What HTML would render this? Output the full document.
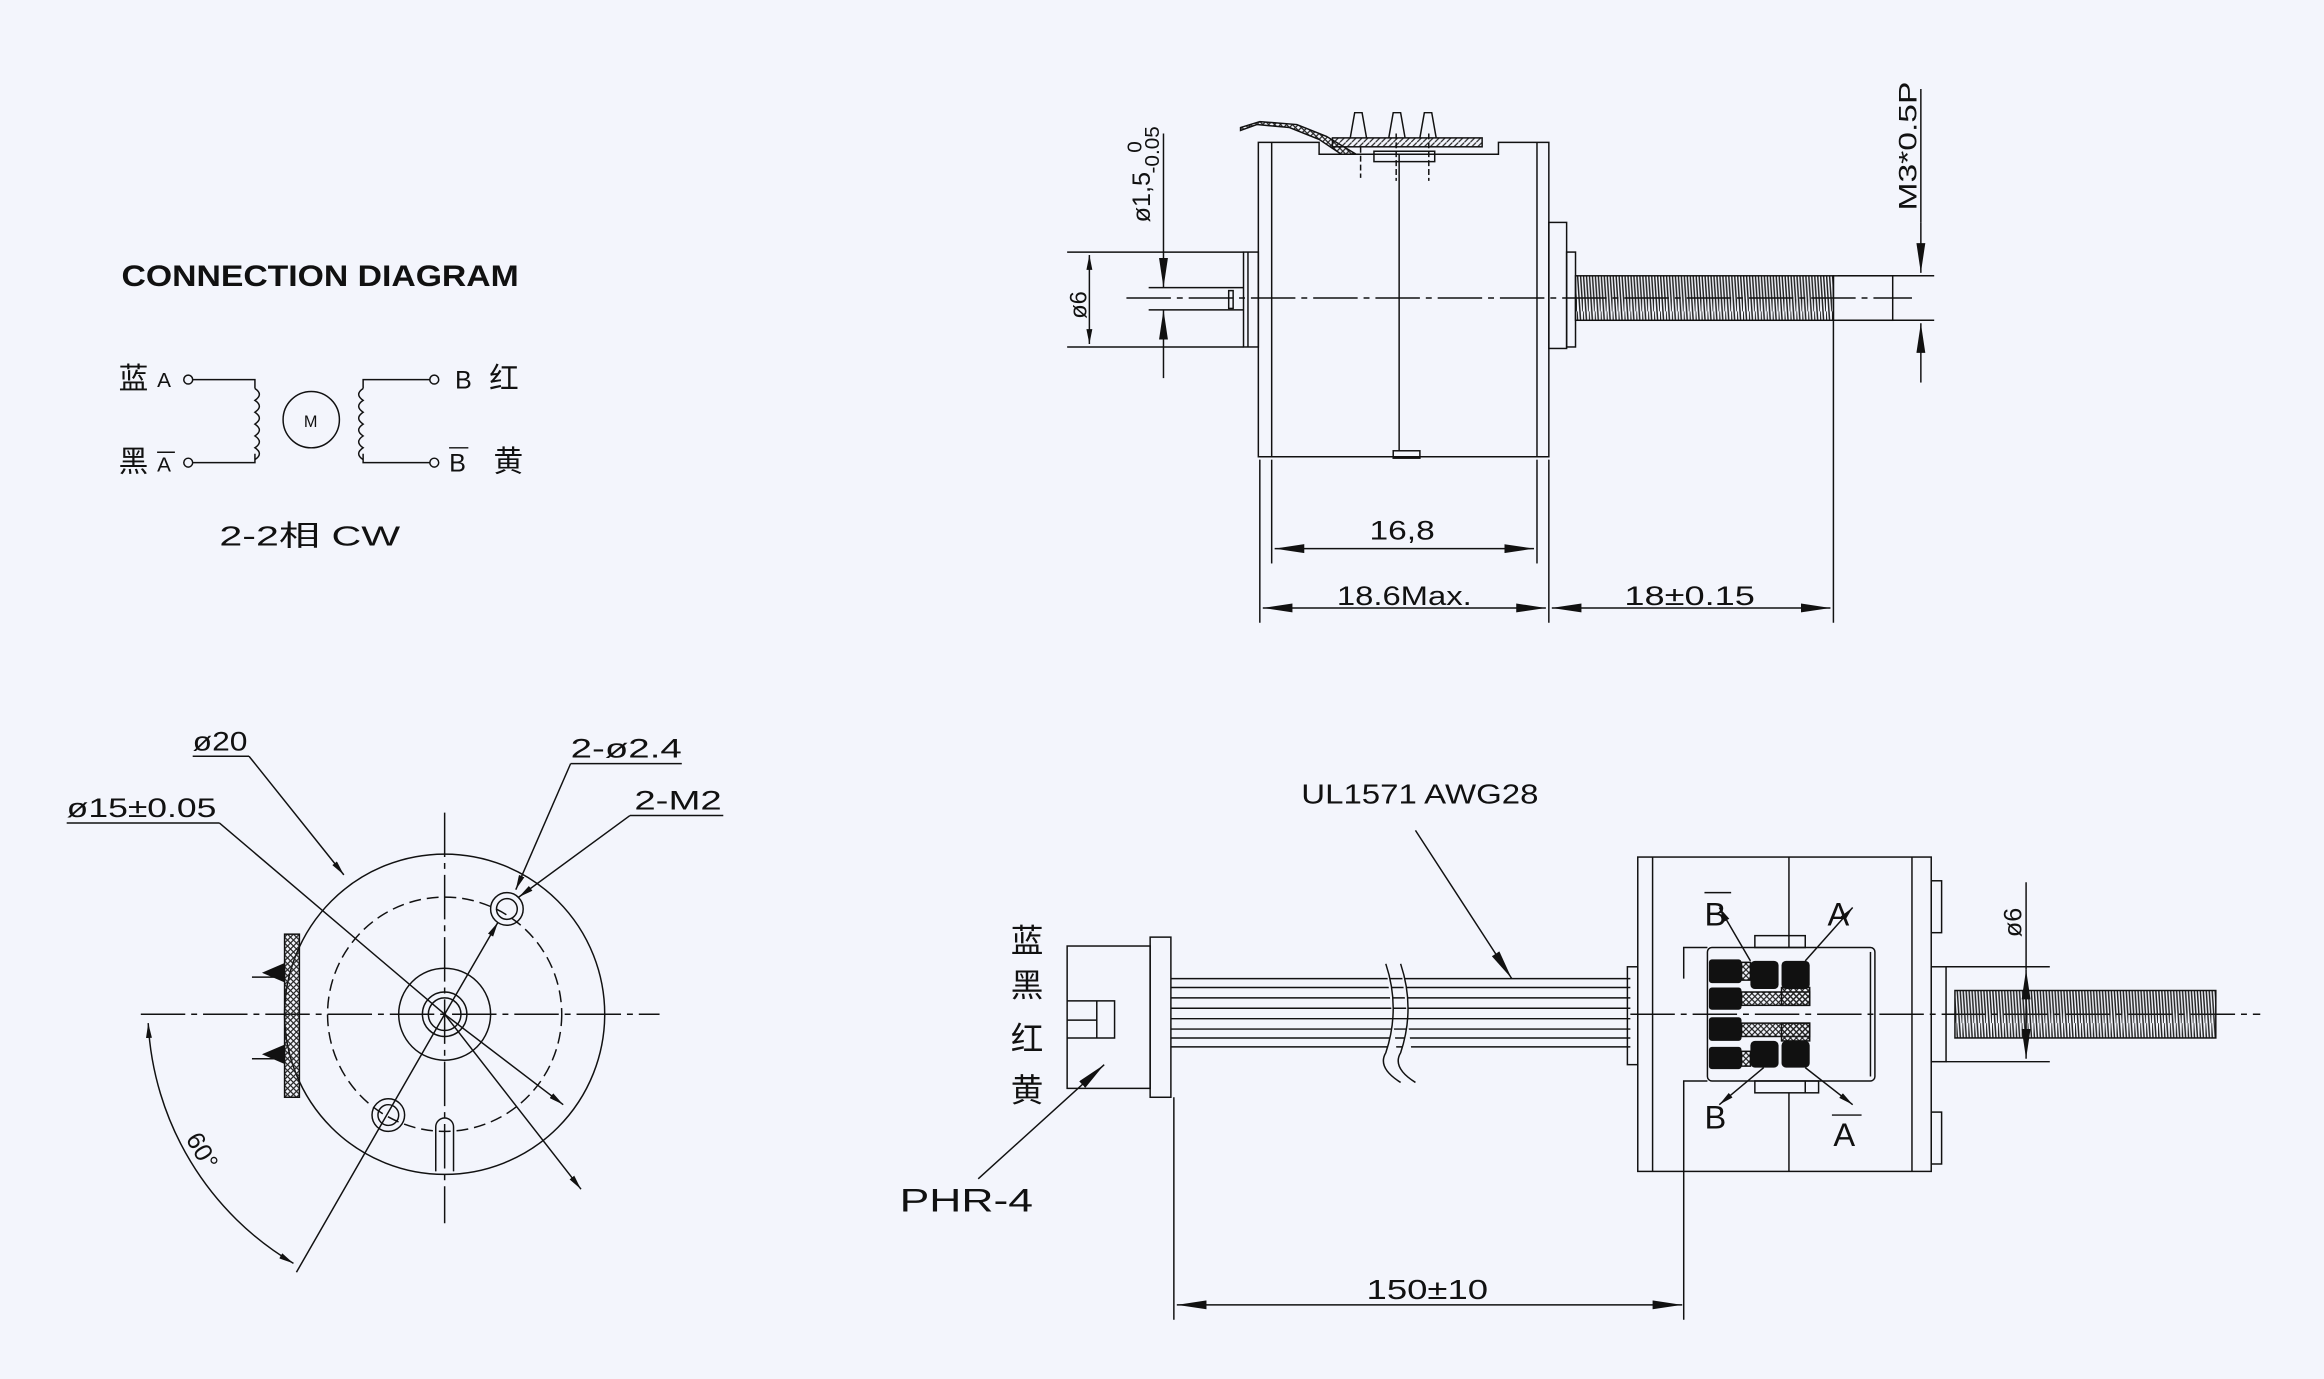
<!DOCTYPE html>
<html><head><meta charset="utf-8"><style>
html,body{margin:0;padding:0;background:#f3f5fc;}
svg{display:block;}
text{font-family:"Liberation Sans","Noto Sans CJK SC",sans-serif;fill:#111;}
</style></head><body>
<svg width="2324" height="1379" viewBox="0 0 1568 930" preserveAspectRatio="none" xmlns="http://www.w3.org/2000/svg">
<defs>
<marker id="ar" viewBox="0 0 10 4" refX="10" refY="2" markerWidth="10" markerHeight="4" markerUnits="userSpaceOnUse" orient="auto-start-reverse"><path d="M0,0L10,2L0,4z" fill="#111"/></marker>
<marker id="al" viewBox="0 0 20 6" refX="20" refY="3" markerWidth="20" markerHeight="6" markerUnits="userSpaceOnUse" orient="auto-start-reverse"><path d="M0,0L20,3L0,6z" fill="#111"/></marker>
<pattern id="thr" width="4" height="30" patternUnits="userSpaceOnUse"><path d="M0,0L2,30M2,0L4,30" stroke="#222" stroke-width="1"/></pattern>
<pattern id="hat" width="4" height="4" patternUnits="userSpaceOnUse"><path d="M0,0L4,4M4,0L0,4" stroke="#222" stroke-width="0.8"/></pattern>
<pattern id="hs" width="4" height="4" patternUnits="userSpaceOnUse"><path d="M0,4L4,0" stroke="#222" stroke-width="0.8"/></pattern>
</defs>
<rect width="1568" height="930" fill="#f3f5fc"/>
<g stroke="#111" fill="none" stroke-width="1">

<!-- CONNECTION DIAGRAM -->
<text x="82" y="193" font-size="20" font-weight="bold" stroke="none" textLength="268" lengthAdjust="spacingAndGlyphs">CONNECTION DIAGRAM</text>
<text x="80" y="262" font-size="20" stroke="none">蓝</text>
<text x="106" y="261" font-size="14" stroke="none">A</text>
<text x="80" y="318" font-size="20" stroke="none">黑</text>
<text x="106" y="318" font-size="14" stroke="none">A</text>
<line x1="106" y1="305" x2="118" y2="305"/>
<circle cx="127" cy="256" r="3"/><circle cx="127" cy="312" r="3"/>
<path d="M130,256H172V262M130,312H172V306"/>
<path d="M172,262 q6,4 0,8 q6,4 0,8 q6,4 0,8 q6,4 0,8 q6,4 0,8 q6,4 0,8"/>
<circle cx="210" cy="283" r="19"/>
<text x="205" y="288" font-size="11" stroke="none">M</text>
<path d="M245,262 q-6,4 0,8 q-6,4 0,8 q-6,4 0,8 q-6,4 0,8 q-6,4 0,8 q-6,4 0,8"/>
<path d="M245,262V256H290M245,306V312H290"/>
<circle cx="293" cy="256" r="3"/><circle cx="293" cy="312" r="3"/>
<text x="307" y="262" font-size="17" stroke="none">B</text>
<text x="330" y="262" font-size="20" stroke="none">红</text>
<text x="303" y="318" font-size="17" stroke="none">B</text>
<line x1="303" y1="302" x2="316" y2="302"/>
<text x="333" y="318" font-size="20" stroke="none">黄</text>
<text x="148" y="368" font-size="19" stroke="none" textLength="122" lengthAdjust="spacingAndGlyphs">2-2相 CW</text>

<!-- TOP SIDE VIEW -->
<path d="M849,308V96H858V96H890V104H1011V96H1045V308Z"/>
<line x1="858" y1="96" x2="858" y2="308"/>
<line x1="1037" y1="96" x2="1037" y2="308"/>
<line x1="944" y1="104" x2="944" y2="304"/>
<rect x="839" y="170" width="10" height="64"/>
<line x1="842" y1="170" x2="842" y2="234"/>
<line x1="775" y1="194" x2="839" y2="194"/>
<line x1="775" y1="209" x2="839" y2="209"/>
<rect x="829" y="196" width="3" height="12"/>
<rect x="1045" y="150" width="12" height="85"/>
<rect x="1057" y="170" width="6" height="64"/>
<rect x="1063" y="186" width="174" height="30" fill="url(#thr)"/>
<rect x="1237" y="186" width="40" height="30"/>
<line x1="760" y1="201" x2="1290" y2="201" stroke-dasharray="30,4,4,4"/>
<!-- connector on top -->
<path d="M837,88 L848,84 L870,86 L890,94 L905,104 L915,104 L895,92 L875,84 L850,82 L837,86Z" fill="url(#hat)"/>
<rect x="899" y="93" width="101" height="6" fill="url(#hs)"/>
<rect x="927" y="102" width="41" height="7"/>
<path d="M911,93 L914,76 L919,76 L922,93M937,93 L940,76 L945,76 L948,93M958,93 L961,76 L966,76 L969,93"/>
<line x1="918" y1="99" x2="918" y2="120" stroke-dasharray="4,2"/><line x1="942" y1="90" x2="942" y2="122" stroke-dasharray="4,2"/><line x1="964" y1="90" x2="964" y2="122" stroke-dasharray="4,2"/>
<rect x="940" y="304" width="18" height="5"/>
<!-- dims left -->
<line x1="720" y1="170" x2="839" y2="170"/>
<line x1="720" y1="234" x2="839" y2="234"/>
<line x1="735" y1="172" x2="735" y2="232" marker-start="url(#ar)" marker-end="url(#ar)"/>
<text x="0" y="0" font-size="16" stroke="none" transform="translate(733,215) rotate(-90)">ø6</text>
<line x1="785" y1="90" x2="785" y2="194" marker-end="url(#al)"/>
<line x1="785" y1="255" x2="785" y2="209" marker-end="url(#al)"/>
<text x="0" y="0" font-size="17" stroke="none" transform="translate(776,150) rotate(-90)">ø1,5</text>
<text x="0" y="0" font-size="14" stroke="none" transform="translate(770,103) rotate(-90)">0</text>
<text x="0" y="0" font-size="14" stroke="none" transform="translate(782,117) rotate(-90)">-0.05</text>
<!-- dims right -->
<line x1="1240" y1="186" x2="1305" y2="186"/><line x1="1240" y1="216" x2="1305" y2="216"/>
<line x1="1296" y1="150" x2="1296" y2="184" marker-end="url(#al)"/>
<line x1="1296" y1="258" x2="1296" y2="218" marker-end="url(#al)"/>
<line x1="1296" y1="60" x2="1296" y2="150"/>
<text x="0" y="0" font-size="17" stroke="none" transform="translate(1293,142) rotate(-90)" textLength="87" lengthAdjust="spacingAndGlyphs">M3*0.5P</text>
<!-- bottom dims -->
<line x1="850" y1="310" x2="850" y2="420"/>
<line x1="858" y1="310" x2="858" y2="380"/>
<line x1="1037" y1="310" x2="1037" y2="380"/>
<line x1="1045" y1="310" x2="1045" y2="420"/>
<line x1="1237" y1="216" x2="1237" y2="420"/>
<line x1="860" y1="370" x2="1035" y2="370" marker-start="url(#al)" marker-end="url(#al)"/>
<text x="924" y="364" font-size="18" stroke="none" textLength="44" lengthAdjust="spacingAndGlyphs">16,8</text>
<line x1="852" y1="410" x2="1043" y2="410" marker-start="url(#al)" marker-end="url(#al)"/>
<text x="902" y="408" font-size="18" stroke="none" textLength="91" lengthAdjust="spacingAndGlyphs">18.6Max.</text>
<line x1="1047" y1="410" x2="1235" y2="410" marker-start="url(#al)" marker-end="url(#al)"/>
<text x="1096" y="408" font-size="18" stroke="none" textLength="88" lengthAdjust="spacingAndGlyphs">18±0.15</text>

<!-- FRONT VIEW -->
<circle cx="300" cy="684" r="108"/>
<circle cx="300" cy="684" r="79" stroke-dasharray="8,4"/>
<circle cx="300" cy="684" r="31"/>
<circle cx="300" cy="684" r="15"/><circle cx="300" cy="684" r="11"/>
<circle cx="342" cy="613" r="11"/><circle cx="342" cy="613" r="7"/>
<circle cx="262" cy="752" r="11"/><circle cx="262" cy="752" r="7"/>
<path d="M294,790V760a6,6 0 0 1 12,0V790"/>
<line x1="95" y1="684" x2="445" y2="684" stroke-dasharray="30,4,4,4"/>
<line x1="300" y1="548" x2="300" y2="825" stroke-dasharray="30,4,4,4"/>
<rect x="192" y="630" width="10" height="110" fill="url(#hat)"/>
<path d="M192,650L178,656L192,662M192,705L178,711L192,717" fill="#111"/>
<line x1="170" y1="659" x2="192" y2="659"/><line x1="170" y1="714" x2="192" y2="714"/>
<line x1="130" y1="510" x2="168" y2="510"/>
<text x="130" y="506" font-size="18" stroke="none" textLength="37" lengthAdjust="spacingAndGlyphs">ø20</text>
<line x1="168" y1="510" x2="232" y2="590" marker-end="url(#ar)"/>
<line x1="45" y1="555" x2="148" y2="555"/>
<text x="45" y="551" font-size="18" stroke="none" textLength="101" lengthAdjust="spacingAndGlyphs">ø15±0.05</text>
<line x1="148" y1="555" x2="300" y2="684"/>
<line x1="300" y1="684" x2="392" y2="802" marker-end="url(#ar)"/>
<line x1="385" y1="515" x2="460" y2="515"/>
<text x="385" y="511" font-size="18" stroke="none" textLength="75" lengthAdjust="spacingAndGlyphs">2-ø2.4</text>
<line x1="385" y1="515" x2="348" y2="600" marker-end="url(#ar)"/>
<line x1="425" y1="550" x2="488" y2="550"/>
<text x="428" y="546" font-size="18" stroke="none" textLength="59" lengthAdjust="spacingAndGlyphs">2-M2</text>
<line x1="425" y1="550" x2="350" y2="605" marker-end="url(#ar)"/>
<line x1="300" y1="684" x2="336" y2="622" marker-end="url(#ar)"/>
<line x1="300" y1="684" x2="380" y2="745" marker-end="url(#ar)"/>
<line x1="300" y1="684" x2="200" y2="858"/>
<path d="M100,690 A200,200 0 0 0 198,852" marker-start="url(#ar)" marker-end="url(#ar)"/>
<text x="0" y="0" font-size="17" stroke="none" transform="translate(125,768) rotate(60)">60°</text>

<!-- BOTTOM RIGHT VIEW -->
<text x="682" y="642" font-size="22" stroke="none">蓝</text>
<text x="682" y="672" font-size="22" stroke="none">黑</text>
<text x="682" y="708" font-size="22" stroke="none">红</text>
<text x="682" y="743" font-size="22" stroke="none">黄</text>
<rect x="720" y="638" width="56" height="96"/>
<rect x="776" y="632" width="14" height="108"/>
<path d="M720,675H752V700H720M740,675V700M720,688H740"/>
<path d="M790,660H1100M790,666H1100M790,673H1100M790,680H1100M790,687H1100M790,694H1100M790,700H1100M790,706H1100"/>
<path d="M935,650 q10,30 0,60 q-6,10 10,20M945,650 q10,30 0,60 q-6,10 10,20" fill="#f3f5fc"/>
<line x1="660" y1="795" x2="745" y2="718" marker-end="url(#al)"/>
<text x="607" y="817" font-size="22" stroke="none" textLength="90" lengthAdjust="spacingAndGlyphs">PHR-4</text>
<line x1="955" y1="560" x2="1020" y2="660" marker-end="url(#al)"/>
<text x="878" y="542" font-size="19" stroke="none" textLength="160" lengthAdjust="spacingAndGlyphs">UL1571 AWG28</text>
<!-- motor -->
<rect x="1098" y="652" width="7" height="66"/>
<rect x="1105" y="578" width="198" height="212"/>
<line x1="1115" y1="578" x2="1115" y2="790"/>
<line x1="1207" y1="578" x2="1207" y2="639"/>
<line x1="1207" y1="737" x2="1207" y2="790"/>
<line x1="1290" y1="578" x2="1290" y2="790"/>
<rect x="1303" y="594" width="7" height="35"/>
<rect x="1303" y="750" width="7" height="35"/>
<path d="M1136,890V729H1152M1136,660V639H1152"/>
<rect x="1152" y="639" width="113" height="90" rx="3"/>
<line x1="1262" y1="642" x2="1262" y2="726"/>
<rect x="1184" y="631" width="34" height="8"/>
<rect x="1184" y="729" width="43" height="8"/>
<line x1="1218" y1="729" x2="1218" y2="737"/>
<rect x="1175" y="669" width="46" height="9" fill="url(#hat)"/>
<rect x="1202" y="666" width="19" height="12" fill="url(#hat)"/>
<rect x="1175" y="690" width="46" height="9" fill="url(#hat)"/>
<rect x="1202" y="690" width="19" height="12" fill="url(#hat)"/>
<rect x="1175" y="649" width="6" height="12" fill="url(#hat)"/>
<rect x="1175" y="709" width="6" height="10" fill="url(#hat)"/>
<g fill="#111" stroke="none">
<rect x="1153" y="647" width="22" height="16" rx="2"/><rect x="1153" y="666" width="22" height="15" rx="2"/>
<rect x="1153" y="686" width="22" height="16" rx="2"/><rect x="1153" y="706" width="22" height="15" rx="2"/>
<rect x="1181" y="648" width="19" height="19" rx="3"/><rect x="1202" y="648" width="19" height="19" rx="3"/>
<rect x="1181" y="702" width="19" height="18" rx="3"/><rect x="1202" y="702" width="19" height="18" rx="3"/>
</g>
<path d="M1100,684H1525" stroke-dasharray="30,4,4,4"/>
<rect x="1319" y="668" width="176" height="32" fill="url(#thr)"/>
<rect x="1303" y="652" width="10" height="64"/>
<line x1="1313" y1="652" x2="1383" y2="652"/><line x1="1313" y1="716" x2="1383" y2="716"/>
<line x1="1367" y1="654" x2="1367" y2="714" marker-start="url(#al)" marker-end="url(#al)"/>
<line x1="1367" y1="595" x2="1367" y2="654"/>
<text x="0" y="0" font-size="17" stroke="none" transform="translate(1364,632) rotate(-90)">ø6</text>
<text x="1150" y="624" font-size="22" stroke="none">B</text><line x1="1150" y1="602" x2="1168" y2="602"/>
<text x="1233" y="624" font-size="22" stroke="none">A</text>
<text x="1150" y="761" font-size="22" stroke="none">B</text>
<text x="1237" y="773" font-size="22" stroke="none">A</text><line x1="1236" y1="752" x2="1256" y2="752"/>
<line x1="1181" y1="648" x2="1160" y2="612" marker-end="url(#ar)"/>
<line x1="1218" y1="648" x2="1250" y2="612" marker-end="url(#ar)"/>
<line x1="1190" y1="720" x2="1160" y2="745" marker-end="url(#ar)"/>
<line x1="1218" y1="720" x2="1250" y2="745" marker-end="url(#ar)"/>
<!-- 150 dim -->
<line x1="792" y1="740" x2="792" y2="890"/>
<line x1="794" y1="880" x2="1135" y2="880" marker-start="url(#al)" marker-end="url(#al)"/>
<text x="922" y="876" font-size="19" stroke="none" textLength="82" lengthAdjust="spacingAndGlyphs">150±10</text>
</g>
</svg>
</body></html>
